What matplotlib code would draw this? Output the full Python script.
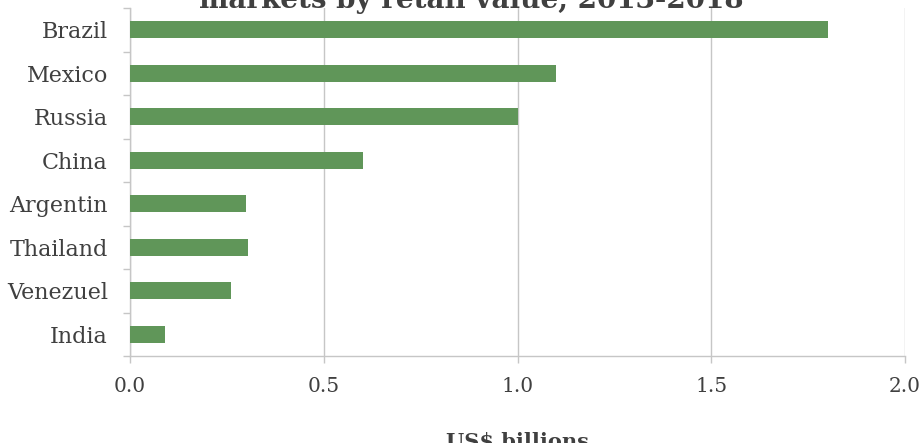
import numpy as np
import matplotlib.pyplot as plt

# retail value by country, US$ billions
countries = ["Brazil", "Mexico", "Russia", "China", "Argentin", "Thailand", "Venezuel", "India"]
values = [1.80, 1.10, 1.00, 0.60, 0.30, 0.305, 0.26, 0.09]
xticks = [0.0, 0.5, 1.0, 1.5, 2.0]

plt.rcParams['font.family'] = ['DejaVu Serif']
grey = '#c6c6c6'
txt = '#404040'

fig = plt.figure(figsize=(9.24, 4.43), dpi=100)
ax = fig.add_axes([130 / 924, 1 - 356 / 443, 775 / 924, 348 / 443])

y = np.arange(len(countries))
ax.barh(y, values, height=0.4, color='#609659', zorder=3)

ax.set_xlim(0, 2.0)
ax.set_ylim(len(countries) - 0.5, -0.5)
ax.set_xticks(xticks)
ax.set_xticklabels([f"{v:.1f}" for v in xticks], fontsize=14.5, color=txt)
ax.set_yticks(y)
ax.set_yticklabels(countries, fontsize=16, color=txt)
ax.set_yticks(np.arange(len(countries) + 1) - 0.5, minor=True)

ax.tick_params(axis='y', which='major', length=0, pad=16)
ax.tick_params(axis='y', which='minor', length=5, color=grey, width=1)
ax.tick_params(axis='x', length=5, color=grey, width=1, pad=10)

ax.grid(axis='x', color=grey, linewidth=1, zorder=0)
for s in ['top', 'right']:
    ax.spines[s].set_visible(False)
for s in ['left', 'bottom']:
    ax.spines[s].set_color(grey)
    ax.spines[s].set_linewidth(1)

ax.set_xlabel("US$ billions", fontsize=15, fontweight='bold', color=txt, labelpad=26)
fig.text(0.51, 1.0, "markets by retail value, 2013-2018", fontsize=20, fontweight='bold',
         color=txt, ha='center', va='center')

fig.savefig("out.png", dpi=100)
